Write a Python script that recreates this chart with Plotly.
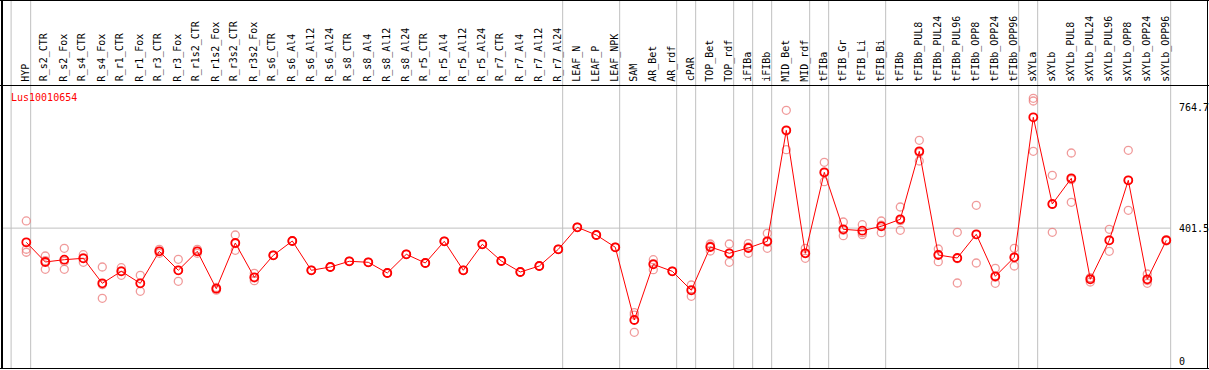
import plotly.graph_objects as go

categories = ["HYP", "R_s2_CTR", "R_s2_Fox", "R_s4_CTR", "R_s4_Fox", "R_r1_CTR", "R_r1_Fox",
              "R_r3_CTR", "R_r3_Fox", "R_r1s2_CTR", "R_r1s2_Fox", "R_r3s2_CTR", "R_r3s2_Fox",
              "R_s6_CTR", "R_s6_Al4", "R_s6_Al12", "R_s6_Al24", "R_s8_CTR", "R_s8_Al4",
              "R_s8_Al12", "R_s8_Al24", "R_r5_CTR", "R_r5_Al4", "R_r5_Al12", "R_r5_Al24",
              "R_r7_CTR", "R_r7_Al4", "R_r7_Al12", "R_r7_Al24", "LEAF_N", "LEAF_P", "LEAF_NPK",
              "SAM", "AR_Bet", "AR_rdf", "cPAR", "TOP_Bet", "TOP_rdf", "iFIBa", "iFIBb",
              "MID_Bet", "MID_rdf", "tFIBa", "tFIB_Gr", "tFIB_Li", "tFIB_Bi", "tFIBb",
              "tFIBb_PUL8", "tFIBb_PUL24", "tFIBb_PUL96", "tFIBb_OPP8", "tFIBb_OPP24",
              "tFIBb_OPP96", "sXYLa", "sXYLb", "sXYLb_PUL8", "sXYLb_PUL24", "sXYLb_PUL96",
              "sXYLb_OPP8", "sXYLb_OPP24", "sXYLb_OPP96"]

mean_values = [358.9, 299.7, 306.6, 310.8, 235.6, 271.7, 235.6, 331.8, 274.7, 331.8, 219.4,
               356.8, 253.7, 319.8, 362.8, 274.7, 284.6, 301.8, 298.8, 266.6, 322.8, 296.7,
               361.9, 274.7, 352.9, 302.7, 269.6, 287.6, 337.8, 403.9, 380.8, 343.9, 125.3,
               292.7, 271.7, 214.6, 344.8, 325.8, 341.8, 361.9, 695.5, 325.8, 569.2, 397.9,
               393.8, 406.9, 428.0, 632.4, 320.7, 311.7, 382.9, 256.7, 313.8, 734.6, 474.0,
               551.2, 247.7, 364.9, 545.2, 247.7, 364.9]

rep1 = [423.0, 317.7, 340.8, 321.6, 284.6, 282.6, 259.7, 337.8, 307.8, 337.8, 223.0,
        380.8, 265.7, 319.8, 362.8, 274.7, 284.6, 301.8, 298.8, 266.6, 322.8, 296.7,
        361.9, 274.7, 352.9, 302.7, 269.6, 287.6, 337.8, 403.9, 380.8, 343.9, 147.3,
        306.6, 271.7, 230.5, 353.8, 353.8, 354.8, 385.9, 755.6, 340.8, 599.3, 419.9,
        411.8, 422.9, 465.0, 665.5, 338.7, 388.9, 470.1, 280.7, 340.8, 791.7, 560.3,
        627.3, 239.6, 397.9, 635.4, 263.6, 367.0]
rep2 = [338.0, 277.7, 277.7, 298.8, 190.5, 259.7, 211.6, 325.8, 241.6, 325.8, 215.0,
        334.8, 243.5, 319.8, 362.8, 274.7, 284.6, 301.8, 298.8, 266.6, 322.8, 296.7,
        361.9, 274.7, 352.9, 302.7, 269.6, 287.6, 337.8, 403.9, 380.8, 343.9, 88.4,
        276.5, 271.7, 196.5, 332.8, 298.8, 325.8, 340.8, 637.2, 310.8, 541.0, 378.7,
        381.7, 387.7, 394.9, 603.2, 300.6, 236.6, 296.7, 235.6, 287.6, 783.6, 388.9,
        479.1, 252.0, 331.8, 455.1, 235.6, 363.0]
rep3 = [329.0, 303.7, 301.3, 312.0, 231.7, 272.8, 235.5, 331.8, 274.7, 331.8, 220.0,
        354.8, 252.0, 319.8, 362.8, 274.7, 284.6, 301.8, 298.8, 266.6, 322.8, 296.7,
        361.9, 274.7, 352.9, 302.7, 269.6, 287.6, 337.8, 403.9, 380.8, 343.9, 140.2,
        295.0, 271.7, 216.8, 347.8, 324.8, 344.8, 359.0, 693.7, 325.8, 567.3, 395.1,
        387.9, 410.1, 424.1, 628.5, 322.8, 309.6, 381.9, 253.8, 313.0, 632.4, 472.8,
        547.2, 251.5, 365.0, 545.1, 243.9, 364.7]

group_last = [0, 28, 31, 34, 35, 37, 38, 39, 41, 42, 45, 52, 53, 60]
ref_values = [764.7, 401.5, 0]
ref_labels = ["764.7", "401.5", "0"]
gene = "Lus10010654"

W, H = 1209, 370
X0, DX = 26.3, 19.0          # pixel of first category, pixel step
Y0, SY = 361.7, 0.3327       # pixel of value 0, pixels per unit

def px2x(p):
    return (p - X0) / DX

def px2y(p):
    return (Y0 - p) / SY

x = list(range(len(categories)))
FONT = "DejaVu Sans Mono"

fig = go.Figure()
for reps in (rep1, rep2, rep3):
    fig.add_trace(go.Scatter(
        x=x, y=reps, mode="markers",
        marker=dict(symbol="circle-open", size=8, color="rgba(235,120,120,0.75)",
                    line=dict(width=1.3, color="rgba(235,120,120,0.75)")),
        hoverinfo="skip", showlegend=False))
fig.add_trace(go.Scatter(
    x=x, y=mean_values, mode="lines+markers",
    line=dict(color="#ff0000", width=1),
    marker=dict(symbol="circle-open", size=8, color="#ff0000",
                line=dict(width=1.8, color="#ff0000")),
    hoverinfo="skip", showlegend=False))

shapes = []
# group separators
sep_positions = [-0.8] + [g + 0.23 for g in group_last]
for s in sep_positions:
    shapes.append(dict(type="line", xref="x", yref="paper", x0=s, x1=s,
                       y0=1 - 368.5 / H, y1=1, line=dict(color="#c0c0c0", width=1),
                       layer="below"))
# reference line at 401.5
shapes.append(dict(type="line", xref="x", yref="y", x0=px2x(2), x1=60 + 0.23,
                   y0=ref_values[1], y1=ref_values[1],
                   line=dict(color="#c0c0c0", width=1), layer="below"))
# borders
blk = dict(color="#000000", width=1)
shapes += [
    dict(type="line", xref="paper", yref="paper", x0=0, x1=1, y0=1 - 0.5 / H, y1=1 - 0.5 / H, line=blk),
    dict(type="line", xref="paper", yref="paper", x0=0, x1=1, y0=1 - 85.5 / H, y1=1 - 85.5 / H, line=blk),
    dict(type="line", xref="paper", yref="paper", x0=0, x1=1, y0=1 - 368.5 / H, y1=1 - 368.5 / H, line=blk),
    dict(type="line", xref="paper", yref="paper", x0=2 / W, x1=2 / W, y0=1 - 369 / H, y1=1,
         line=dict(color="#000000", width=2)),
    dict(type="line", xref="paper", yref="paper", x0=1207.5 / W, x1=1207.5 / W, y0=1 - 369 / H, y1=1, line=blk),
]

annotations = []
for i, c in enumerate(categories):
    annotations.append(dict(x=i - 0.05, y=px2y(83.5), xref="x", yref="y", text=c,
                            textangle=-90, showarrow=False, xanchor="center",
                            yanchor="bottom", font=dict(family=FONT, size=10, color="#000000")))
for v, t in zip(ref_values, ref_labels):
    annotations.append(dict(x=px2x(1177), y=v, xref="x", yref="y", text=t,
                            showarrow=False, xanchor="left", yanchor="middle",
                            font=dict(family=FONT, size=10, color="#000000")))
annotations.append(dict(x=px2x(9), y=px2y(97), xref="x", yref="y", text=gene,
                        showarrow=False, xanchor="left", yanchor="middle",
                        font=dict(family=FONT, size=10, color="#ff0000")))

fig.update_layout(
    width=W, height=H,
    margin=dict(l=0, r=0, t=0, b=0, pad=0),
    paper_bgcolor="white", plot_bgcolor="white",
    xaxis=dict(range=[px2x(0), px2x(W)], visible=False, fixedrange=True),
    yaxis=dict(range=[px2y(H), px2y(0)], visible=False, fixedrange=True),
    shapes=shapes, annotations=annotations,
    hovermode=False,
)

fig.write_html("out.html", config={"displayModeBar": False, "staticPlot": True},
               post_script="document.body.style.margin='0';document.body.style.overflow='hidden';")
